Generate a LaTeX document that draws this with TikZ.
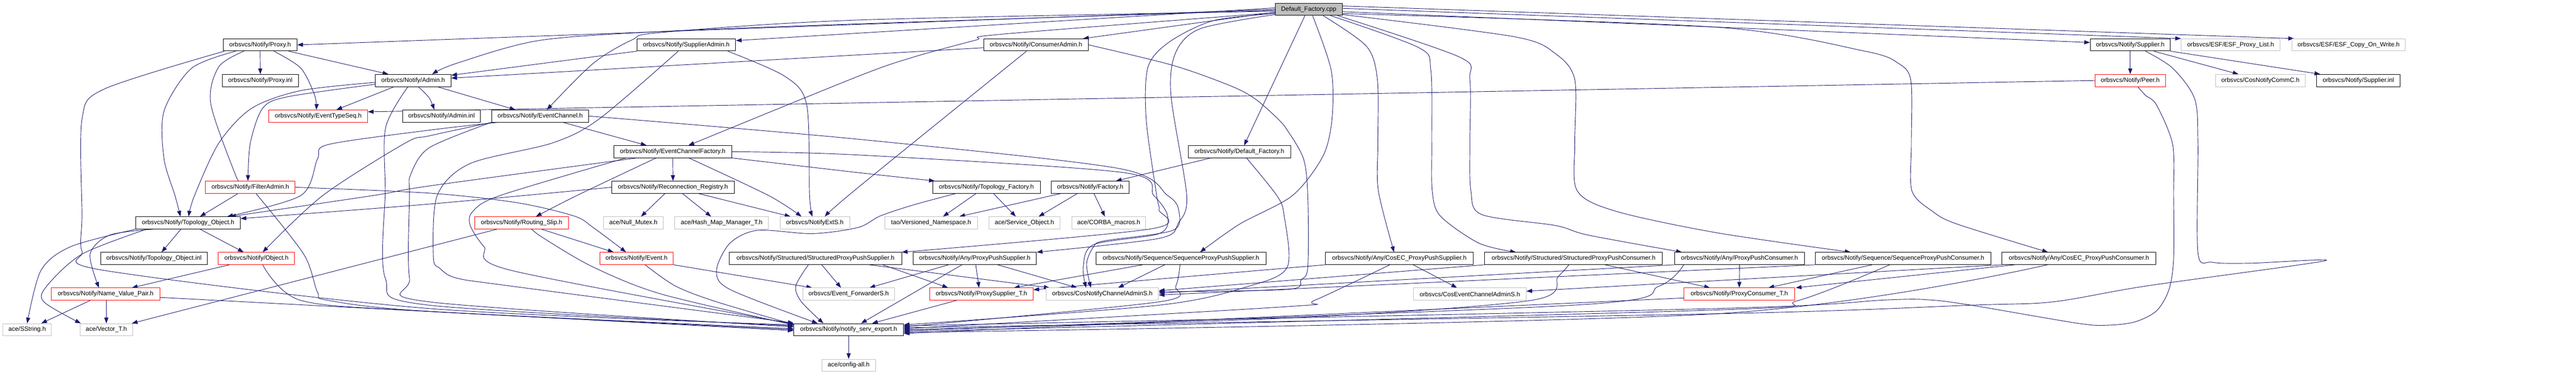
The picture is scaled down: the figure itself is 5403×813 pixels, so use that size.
\documentclass[tikz,border=0pt]{standalone}
\usepackage{fontspec}
\setmainfont{Liberation Sans}
\usetikzlibrary{calc,arrows.meta}
\definecolor{edgeblue}{HTML}{191970}
\definecolor{grayb}{HTML}{BFBFBF}
\pgfdeclarelayer{bg}
\pgfsetlayers{bg,main}
\tikzset{
 boxbase/.style={line width=0.75pt, fill=white, inner sep=0pt, minimum height=19.1pt, font=\fontsize{9.8}{12}\selectfont},
 blkbox/.style={boxbase, draw=black},
 redbox/.style={boxbase, draw=red},
 graybox/.style={boxbase, draw=grayb},
 mainbox/.style={boxbase, draw=black, fill=grayb},
 dep/.style={draw=edgeblue, line width=0.75pt, -{Triangle[length=9pt,width=6.5pt]}}
}
\newcommand\nd[6]{\node[#5, minimum width={(#3-#2)*0.75pt}] (#1) at ({(#2+#3)/2},{19.5+74.65*#4}) {#6};}
\newcommand\depc[1]{\draw[dep] plot[smooth,tension=0.5] coordinates {#1};}
\begin{document}
\begin{tikzpicture}[x=0.75pt,y=-0.75pt]
\useasboundingbox (0,0) rectangle (5403,813);
\nd{main}{2675}{2815}{0}{mainbox}{Default\_Factory.cpp}
\nd{proxy}{468}{623}{1}{blkbox}{orbsvcs/Notify/Proxy.h}
\nd{supadm}{1336}{1543}{1}{blkbox}{orbsvcs/Notify/SupplierAdmin.h}
\nd{conadm}{2063}{2283}{1}{blkbox}{orbsvcs/Notify/ConsumerAdmin.h}
\nd{supplier}{4384}{4552}{1}{blkbox}{orbsvcs/Notify/Supplier.h}
\nd{esfpl}{4575}{4782}{1}{graybox}{orbsvcs/ESF/ESF\_Proxy\_List.h}
\nd{esfcow}{4807}{5045}{1}{graybox}{orbsvcs/ESF/ESF\_Copy\_On\_Write.h}
\nd{proxyinl}{466}{626}{2}{blkbox}{orbsvcs/Notify/Proxy.inl}
\nd{admin}{787}{946}{2}{blkbox}{orbsvcs/Notify/Admin.h}
\nd{peer}{4394}{4542}{2}{redbox}{orbsvcs/Notify/Peer.h}
\nd{coscommc}{4647}{4835}{2}{graybox}{orbsvcs/CosNotifyCommC.h}
\nd{supinl}{4859}{5034}{2}{blkbox}{orbsvcs/Notify/Supplier.inl}
\nd{ets}{564}{771}{3}{redbox}{orbsvcs/Notify/EventTypeSeq.h}
\nd{admininl}{844}{1008}{3}{blkbox}{orbsvcs/Notify/Admin.inl}
\nd{ec}{1031}{1235}{3}{blkbox}{orbsvcs/Notify/EventChannel.h}
\nd{ecf}{1287}{1535}{4}{blkbox}{orbsvcs/Notify/EventChannelFactory.h}
\nd{deffac}{2492}{2707}{4}{blkbox}{orbsvcs/Notify/Default\_Factory.h}
\nd{filteradm}{431}{619}{5}{redbox}{orbsvcs/Notify/FilterAdmin.h}
\nd{reconreg}{1283}{1540}{5}{blkbox}{orbsvcs/Notify/Reconnection\_Registry.h}
\nd{topofac}{1956}{2182}{5}{blkbox}{orbsvcs/Notify/Topology\_Factory.h}
\nd{factory}{2205}{2368}{5}{blkbox}{orbsvcs/Notify/Factory.h}
\nd{topoobj}{285}{504}{6}{blkbox}{orbsvcs/Notify/Topology\_Object.h}
\nd{routing}{996}{1192}{6}{redbox}{orbsvcs/Notify/Routing\_Slip.h}
\nd{nullmutex}{1266}{1391}{6}{graybox}{ace/Null\_Mutex.h}
\nd{hashmap}{1415}{1612}{6}{graybox}{ace/Hash\_Map\_Manager\_T.h}
\nd{extS}{1636}{1782}{6}{graybox}{orbsvcs/NotifyExtS.h}
\nd{versns}{1856}{2050}{6}{graybox}{tao/Versioned\_Namespace.h}
\nd{svcobj}{2074}{2223}{6}{graybox}{ace/Service\_Object.h}
\nd{corbamac}{2248}{2403}{6}{graybox}{ace/CORBA\_macros.h}
\nd{topoinl}{211}{435}{7}{blkbox}{orbsvcs/Notify/Topology\_Object.inl}
\nd{object}{458}{618}{7}{redbox}{orbsvcs/Notify/Object.h}
\nd{event}{1258}{1412}{7}{redbox}{orbsvcs/Notify/Event.h}
\nd{strpps}{1530}{1891}{7}{blkbox}{orbsvcs/Notify/Structured/StructuredProxyPushSupplier.h}
\nd{anypps}{1915}{2174}{7}{blkbox}{orbsvcs/Notify/Any/ProxyPushSupplier.h}
\nd{seqpps}{2299}{2655}{7}{blkbox}{orbsvcs/Notify/Sequence/SequenceProxyPushSupplier.h}
\nd{cosecpps}{2780}{3090}{7}{blkbox}{orbsvcs/Notify/Any/CosEC\_ProxyPushSupplier.h}
\nd{strppc}{3114}{3487}{7}{blkbox}{orbsvcs/Notify/Structured/StructuredProxyPushConsumer.h}
\nd{anyppc}{3512}{3785}{7}{blkbox}{orbsvcs/Notify/Any/ProxyPushConsumer.h}
\nd{seqppc}{3807}{4176}{7}{blkbox}{orbsvcs/Notify/Sequence/SequenceProxyPushConsumer.h}
\nd{cosecppc}{4199}{4522}{7}{blkbox}{orbsvcs/Notify/Any/CosEC\_ProxyPushConsumer.h}
\nd{nvp}{108}{335}{8}{redbox}{orbsvcs/Notify/Name\_Value\_Pair.h}
\nd{evfwd}{1684}{1876}{8}{graybox}{orbsvcs/Event\_ForwarderS.h}
\nd{psT}{1950}{2167}{8}{redbox}{orbsvcs/Notify/ProxySupplier\_T.h}
\nd{cosnca}{2194}{2430}{8}{graybox}{orbsvcs/CosNotifyChannelAdminS.h}
\nd{cosecaS}{2965}{3201}{8}{graybox}{orbsvcs/CosEventChannelAdminS.h}
\nd{pcT}{3532}{3764}{8}{redbox}{orbsvcs/Notify/ProxyConsumer\_T.h}
\nd{sstring}{6}{108}{9}{graybox}{ace/SString.h}
\nd{vectorT}{168}{278}{9}{graybox}{ace/Vector\_T.h}
\nd{export}{1665}{1895}{9}{blkbox}{orbsvcs/Notify/notify\_serv\_export.h}
\nd{configall}{1724}{1836}{10}{graybox}{ace/config-all.h}
\begin{pgfonlayer}{bg}
% main
\draw[dep] (main.west) -- (proxy.east);
\draw[dep] ($(main.west)+(0,-3)$) -- ($(supadm.east)+(0,-9)$);
\draw[dep] ($(main.west)+(0,6)$) -- ($(conadm.north east)+(-12,0)$);
\depc{($(main.west)+(0,2)$) (1800,50) (1388,66) (1130,85) (957,133) ($(admin.north)+(40,0)$)}
\depc{($(main.west)+(0,4)$) (1800,42) (1388,68) (1325,84) (1244,133) ($(ec.north)+(14,0)$)}
\depc{($(main.west)+(0,7)$) (2098,72) (2047,84) (1915,120) (1800,160) ($(ecf.north)+(33,0)$)}
\draw[dep] ($(main.south)+(-8,0)$) -- ($(deffac.north)+(10,0)$);
\draw[dep] ($(main.east)+(0,5)$) -- ($(supplier.west)+(0,-5)$);
\draw[dep] ($(main.east)+(0,-2)$) -- (esfpl.north west);
\draw[dep] ($(main.east)+(0,-7)$) -- ($(esfcow.north west)+(5,0)$);
\depc{($(main.east)+(0,9)$) (3600,57) (3910,107) (3982,133) (4008,170) (4009,300) (4010,400) (4053,443) (4105,470) ($(cosecppc.north)+(-65,0)$)}
\depc{($(main.east)+(0,11)$) (3176,77) (3263,113) (3303,167) (3303,300) (3308,400) (3389,443) (3600,488) ($(seqppc.north)+(-110,0)$)}
\depc{($(main.south east)+(-10,0)$) (3062,120) (3083,167) (3083,300) (3085,400) (3108,450) (3263,473) (3331,493) ($(anyppc.north)+(-121,0)$)}
\depc{($(main.south east)+(-25,0)$) (2976,100) (3001,147) (3003,300) (3004,400) (3021,453) (3102,510) ($(strppc.north)+(-121,0)$)}
\depc{($(main.south)+(30,0)$) (2866,97) (2889,167) (2890,300) (2891,400) ($(cosecpps.north)+(-11,0)$)}
\depc{($(main.south)+(8,0)$) (2792,147) (2794,247) (2775,327) (2711,410) (2600,470) ($(seqpps.north)+(40,0)$)}
\depc{($(main.west)+(0,9)$) (2546,43) (2454,87) (2408,140) (2404,250) (2426,410) (2431,440) (2414,480) (strpps.north east)}
\depc{($(main.west)+(0,11)$) (2518,60) (2466,110) (2456,200) (2489,410) (2472,467) (2431,500) (anypps.north east)}
% proxy
\draw[dep] (proxy.south) -- (proxyinl.north);
\draw[dep] ($(proxy.south east)+(-18,0)$) -- ($(admin.north)+(-52,0)$);
\depc{($(proxy.south)+(29,0)$) (631,143) (660,200) ($(ets.north)+(-4,0)$)}
\depc{($(proxy.south)+(-34,0)$) (459,140) (442,217) (494,367) ($(filteradm.north)+(-20,0)$)}
\depc{($(proxy.south)+(-51,0)$) (402,143) (344,233) (344,333) (367,410) ($(topoobj.north)+(-16,0)$)}
\depc{($(proxy.south west)+(3,0)$) (218,187) (172,250) (172,450) (172,527) (218,567) (900,647) ($(export.west)+(0,-10)$)}
% admin
\draw[dep] ($(admin.south)+(-40,0)$) -- ($(ets.north)+(38,0)$);
\depc{($(admin.south)+(11,0)$) (900,205) ($(admininl.north)+(-15,0)$)}
\draw[dep] ($(admin.south east)+(-29,0)$) -- ($(ec.north)+(-52,0)$);
\depc{($(admin.west)+(0,8)$) (603,203) (551,227) (525,300) ($(filteradm.north)+(-5,0)$)}
\depc{($(admin.west)+(0,4)$) (631,190) (528,227) (459,300) (408,410) ($(topoobj.north)+(1,0)$)}
\depc{($(admin.south)+(-11,0)$) (809,267) (808,400) (808,583) (900,640) ($(export.west)+(0,-8)$)}
% eventchannel
\draw[dep] ($(ec.south)+(48,0)$) -- ($(ecf.north)+(-55,0)$);
\depc{($(ec.south west)+(13,0)$) (900,273) (689,303) (666,333) (631,410) ($(topoobj.north east)+(-28,0)$)}
\depc{($(ec.south west)+(1,0)$) (900,285) (850,300) (677,410) ($(object.north)+(13,0)$)}
\depc{(ec.south west) (900,310) (861,367) (859,410) (859,583) (900,633) ($(export.west)+(0,-6)$)}
\depc{(ec.east) (1800,292) (2345,353) (2449,410) (2472,440) (2460,483) (2317,505) (2294,517) (2279,553) ($(cosnca.north)+(-24,0)$)}
% ecf
\draw[dep] (ecf.south) -- (reconreg.north);
\depc{($(ecf.south)+(-35,0)$) (1210,410) ($(routing.north)+(30,0)$)}
\depc{($(ecf.south)+(34,0)$) (1612,410) ($(extS.north)+(-28,0)$)}
\depc{(ecf.south east) (1800,362) ($(topofac.north west)+(5,0)$)}
\depc{($(ecf.south west)+(49,0)$) (900,390) (783,410) ($(topoobj.north east)+(-22,0)$)}
\depc{($(ecf.south west)+(26,0)$) (1049,410) (992,443) (986,472) (1015,517) (1072,567) ($(export.west)+(0,-12)$)}
\depc{(ecf.east) (1800,325) (2357,362) (2420,410) (2449,453) (2431,490) (2294,513) (2272,560) ($(cosnca.north)+(-34,0)$)}
% supplieradmin
\draw[dep] (supadm.south west) -- ($(admin.east)+(0,-11)$);
\depc{($(supadm.south east)+(-17,0)$) (1646,160) (1692,220) (1698,410) ($(extS.north)+(-5,0)$)}
\depc{($(supadm.south)+(-17,0)$) (1256,250) (1158,300) (986,343) (917,410) (909,540) (923,563) (957,583) (1072,600) ($(export.west)+(0,-14)$)}
% consumeradmin
\draw[dep] ($(conadm.west)+(0,6)$) -- ($(admin.east)+(0,-5)$);
\depc{($(conadm.south)+(-20,0)$) (1800,393) ($(extS.north)+(21,0)$)}
\depc{(conadm.east) (2460,137) (2581,180) (2632,207) (2678,247) (2700,273) (2734,333) (2743,410) (2743,560) (2729,587) (2700,607) ($(cosnca.east)+(0,-5)$)}
% supplier
\draw[dep] (supplier.south) -- (peer.north);
\draw[dep] ($(supplier.south east)+(-35,0)$) -- ($(coscommc.north)+(-46,0)$);
\draw[dep] (supplier.south east) -- ($(supinl.north west)+(8,0)$);
\depc{($(supplier.south)+(32,0)$) (4557,143) (4603,207) (4610,300) (4610,530) (4640,550) (4720,552) (4876,547) (4500,600) (4306,633) (4134,640) (3600,658) ($(export.east)+(0,-4)$)}
% peer
\draw[dep] (peer.west) -- ($(ets.east)+(0,-9)$);
\depc{($(peer.south)+(16,0)$) (4500,200) (4523,220) (4557,303) (4559,410) (4559,543) (4549,608) (4523,652) (4478,675) (4421,682) (4358,678) (4134,640) (4048,629) (3956,629) (3600,647) ($(export.east)+(0,-8)$)}
% default factory
\draw[dep] ($(deffac.south west)+(48,0)$) -- ($(factory.north east)+(-28,0)$);
\depc{($(deffac.south)+(15,0)$) (2678,410) (2693,450) (2700,560) (2620,600) (2431,640) ($(export.east)+(0,-10)$)}
% filteradmin
\draw[dep] ($(filteradm.south)+(-26,0)$) -- ($(topoobj.north)+(25,0)$);
\depc{(filteradm.east) (900,405) (1084,425) (1204,453) (1244,477) ($(event.north)+(-22,0)$)}
\depc{($(filteradm.south)+(12,0)$) (637,533) (666,613) (689,630) (900,653) ($(export.west)+(0,-2)$)}
% reconnection registry
\draw[dep] ($(reconreg.south)+(-17,0)$) -- ($(nullmutex.north)+(16,0)$);
\draw[dep] ($(reconreg.south)+(20,0)$) -- ($(hashmap.north)+(-22,0)$);
\draw[dep] ($(reconreg.south east)+(-75,0)$) -- ($(extS.north)+(-51,0)$);
\depc{(reconreg.west) (900,428) ($(topoobj.east)+(0,-9)$)}
% topology factory
\draw[dep] ($(topofac.south)+(-22,0)$) -- ($(versns.north)+(25,0)$);
\draw[dep] ($(topofac.south)+(15,0)$) -- ($(svcobj.north)+(-18,0)$);
\depc{($(topofac.south)+(-65,0)$) (1915,430) (1846,453) (1800,477) (1704,490) (1589,483) (1531,510) (1503,567) (1531,607) ($(export.north)+(-65,0)$)}
% factory
\draw[dep] ($(factory.south west)+(20,0)$) -- ($(versns.north)+(59,0)$);
\draw[dep] ($(factory.south)+(-27,0)$) -- ($(svcobj.north)+(30,0)$);
\draw[dep] ($(factory.south)+(8,0)$) -- ($(corbamac.north)+(-8,0)$);
% topology object
\draw[dep] ($(topoobj.south)+(-15,0)$) -- ($(topoinl.north)+(16,0)$);
\draw[dep] ($(topoobj.south)+(25,0)$) -- ($(object.north)+(-27,0)$);
\depc{($(topoobj.south)+(-73,0)$) (230,493) (189,533) ($(nvp.north)+(-14,0)$)}
\depc{(topoobj.south west) (149,517) (86,567) (sstring.north)}
\depc{($(topoobj.south west)+(23,0)$) (172,533) (98,600) (92,633) ($(vectorT.north west)+(2,0)$)}
% routing slip
\draw[dep] ($(routing.south east)+(-57,0)$) -- ($(event.north)+(-48,0)$);
\draw[dep] ($(routing.south west)+(47,0)$) -- ($(vectorT.north east)+(-2,0)$);
\depc{($(routing.south)+(21,0)$) (1141,500) (1244,560) (1388,617) ($(export.west)+(0,-10)$)}
% object
\draw[dep] ($(object.south west)+(24,0)$) -- ($(nvp.north east)+(-59,0)$);
\depc{($(object.south)+(13,0)$) (631,630) (900,653) (export.west)}
% event
\draw[dep] (event.south east) -- ($(evfwd.north west)+(20,0)$);
\depc{($(event.south)+(18,0)$) (1417,600) (1503,633) ($(export.west)+(0,-11)$)}
% structured proxy push supplier
\draw[dep] ($(strpps.south)+(13,0)$) -- ($(evfwd.north)+(-16,0)$);
\depc{($(strpps.south)+(-15,0)$) (1669,600) (1681,633) ($(export.north)+(-53,0)$)}
\draw[dep] ($(strpps.south east)+(-40,0)$) -- ($(psT.north)+(-70,0)$);
\draw[dep] ($(strpps.south east)+(-68,0)$) -- ($(cosnca.north west)+(8,0)$);
% any proxy push supplier
\draw[dep] ($(anypps.south)+(-55,0)$) -- ($(evfwd.north east)+(-53,0)$);
\draw[dep] ($(anypps.south)+(2,0)$) -- ($(psT.north)+(-5,0)$);
\draw[dep] ($(anypps.south)+(48,0)$) -- ($(cosnca.north)+(-53,0)$);
\draw[dep] ($(anypps.south)+(-27,0)$) -- ($(export.north)+(26,0)$);
% sequence proxy push supplier
\draw[dep] ($(seqpps.south west)+(98,0)$) -- ($(psT.north)+(68,0)$);
\draw[dep] ($(seqpps.south)+(-34,0)$) -- ($(cosnca.north)+(33,0)$);
\depc{($(seqpps.south)+(-2,0)$) (2466,600) (2431,633) ($(export.east)+(0,-6)$)}
% cosec proxy push supplier
\draw[dep] ($(cosecpps.south)+(29,0)$) -- ($(cosecaS.north)+(-27,0)$);
\draw[dep] (cosecpps.south west) -- ($(psT.east)+(0,-9)$);
\depc{($(cosecpps.south)+(-20,0)$) (2757,630) (2700,643) ($(export.east)+(0,-2)$)}
% structured proxy push consumer
\draw[dep] ($(strppc.south east)+(-121,0)$) -- ($(pcT.north west)+(55,0)$);
\draw[dep] (strppc.south west) -- ($(cosnca.east)+(0,-7)$);
\depc{($(strppc.south)+(-10,0)$) (3268,580) (3211,630) (2700,667) (export.east)}
% any proxy push consumer
\draw[dep] (anyppc.south) -- (pcT.north);
\draw[dep] (anyppc.south west) -- ($(cosnca.east)+(0,-2)$);
\depc{($(anyppc.south west)+(20,0)$) (3480,600) (3300,640) ($(export.east)+(0,2)$)}
% sequence proxy push consumer
\draw[dep] ($(seqppc.south)+(-65,0)$) -- ($(pcT.north)+(61,0)$);
\draw[dep] (seqppc.south west) -- ($(cosnca.east)+(0,2)$);
\depc{($(seqppc.south)+(-28,0)$) (3772,630) (3600,650) ($(export.east)+(0,4)$)}
% cosec proxy push consumer
\draw[dep] ($(cosecppc.south west)+(27,0)$) -- ($(pcT.north east)+(2,0)$);
\draw[dep] (cosecppc.south west) -- ($(cosecaS.east)+(0,-6)$);
\depc{($(cosecppc.south)+(-66,0)$) (3600,658) ($(export.east)+(0,6)$)}
% templates
\draw[dep] ($(psT.south west)+(57,0)$) -- ($(export.north)+(49,0)$);
\draw[dep] ($(pcT.south west)+(0,-5)$) -- ($(export.east)+(0,8)$);
% name value pair
\draw[dep] ($(nvp.south)+(-32,0)$) -- ($(sstring.north east)+(-22,0)$);
\draw[dep] ($(nvp.south)+(1.5,0)$) -- (vectorT.north);
\draw[dep] ($(nvp.east)+(0,7)$) -- ($(export.west)+(0,2)$);
% export
\draw[dep] (export.south) -- (configall.north);
\end{pgfonlayer}
\end{tikzpicture}
\end{document}
